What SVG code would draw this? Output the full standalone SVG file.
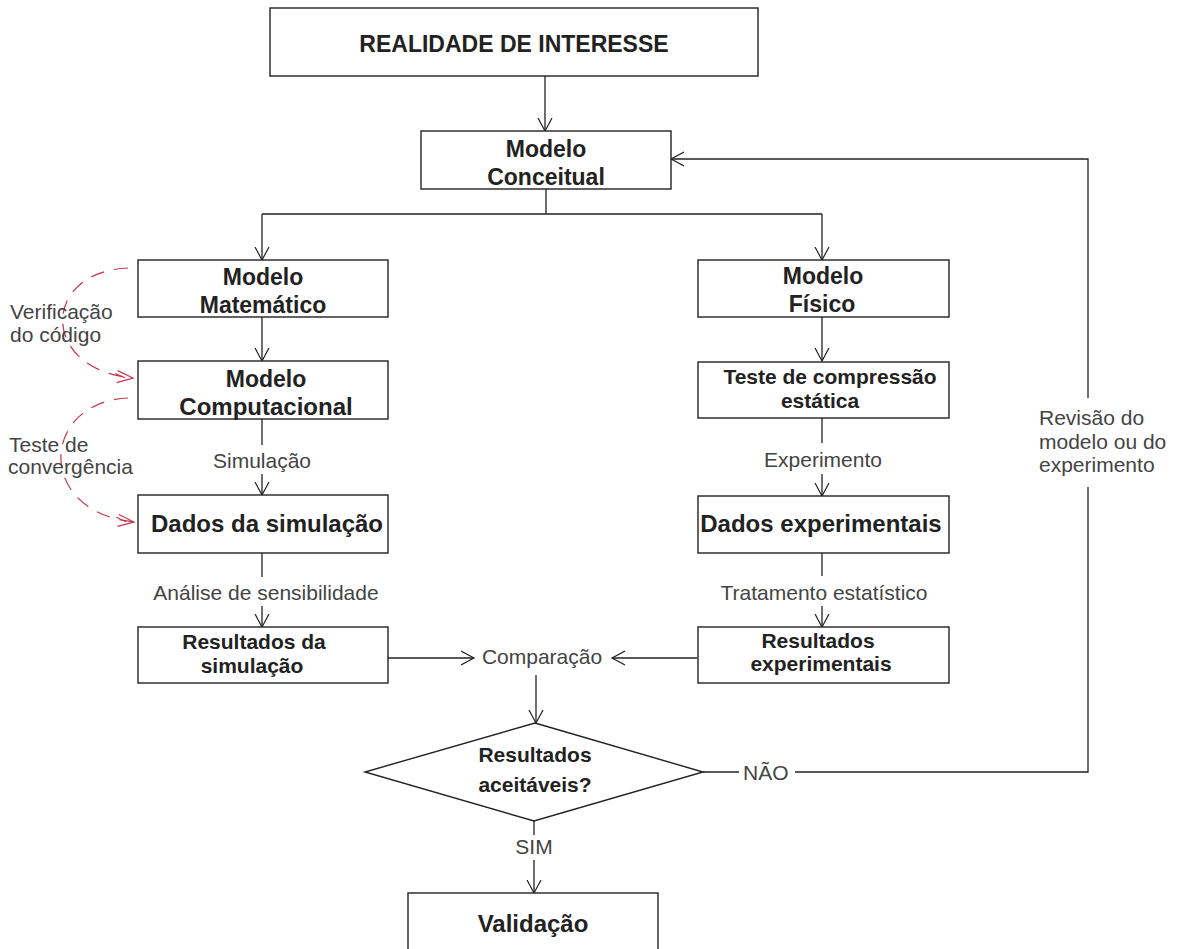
<svg xmlns="http://www.w3.org/2000/svg" width="1179" height="949" viewBox="0 0 1179 949">
<style>
.box{fill:#fff;stroke:#222;stroke-width:1.4}
.t{font-family:"Liberation Sans",Arial,sans-serif;font-weight:bold;fill:#222;text-anchor:middle}
.l{font-family:"Liberation Sans",Arial,sans-serif;fill:#444;font-size:21px}
.c{text-anchor:middle}
.ln{fill:none;stroke:#222;stroke-width:1.3}
.rd{fill:none;stroke:#c8344c;stroke-width:1.2;stroke-dasharray:14 10}
</style>
<defs>
<marker id="ah" markerWidth="16" markerHeight="16" refX="13" refY="8" orient="auto" markerUnits="userSpaceOnUse">
<path d="M0,1 L13,8 L0,15" fill="none" stroke="#222" stroke-width="1.2"/>
</marker>
<marker id="rh" markerWidth="20" markerHeight="14" refX="18" refY="7" orient="auto" markerUnits="userSpaceOnUse">
<path d="M2,1 L18,7 L2,13 M0,4 L10,7.5" fill="none" stroke="#c8344c" stroke-width="1.2"/>
</marker>
</defs>
<rect width="1179" height="949" fill="#fff"/>

<g id="connectors">
<path class="ln" d="M545,76 V131" marker-end="url(#ah)"/>
<path class="ln" d="M546,189 V214 M262,214 H822"/>
<path class="ln" d="M262,214 V260" marker-end="url(#ah)"/>
<path class="ln" d="M822,214 V260" marker-end="url(#ah)"/>
<path class="ln" d="M262,317 V361" marker-end="url(#ah)"/>
<path class="ln" d="M262,419 V445"/>
<path class="ln" d="M262,474 V495" marker-end="url(#ah)"/>
<path class="ln" d="M262,553 V577"/>
<path class="ln" d="M262,606 V627" marker-end="url(#ah)"/>
<path class="ln" d="M822,317 V361" marker-end="url(#ah)"/>
<path class="ln" d="M822,418 V443"/>
<path class="ln" d="M822,474 V496" marker-end="url(#ah)"/>
<path class="ln" d="M822,553 V576"/>
<path class="ln" d="M822,606 V627" marker-end="url(#ah)"/>
<path class="ln" d="M388,658 H474" marker-end="url(#ah)"/>
<path class="ln" d="M697,658 H612" marker-end="url(#ah)"/>
<path class="ln" d="M536,675 V723" marker-end="url(#ah)"/>
<path class="ln" d="M534,821 V835"/>
<path class="ln" d="M534,860 V893" marker-end="url(#ah)"/>
<path class="ln" d="M703,772 H739"/>
<path class="ln" d="M795,772 H1088 V487"/>
<path class="ln" d="M1088,398 V159 H671" marker-end="url(#ah)"/>
<path class="rd" d="M128,268 C40,272 40,370 133,378" marker-end="url(#rh)"/>
<path class="rd" d="M128,398 C40,402 35,512 134,522" marker-end="url(#rh)"/>
<text class="l c" x="262" y="468">Simulação</text>
<text class="l c" x="266" y="600">Análise de sensibilidade</text>
<text class="l c" x="823" y="467">Experimento</text>
<text class="l c" x="824" y="600">Tratamento estatístico</text>
<text class="l c" x="542" y="664">Comparação</text>
<text class="l c" x="534" y="854">SIM</text>
<text class="l" x="743" y="780">NÃO</text>
<text class="l" x="1039" y="425" font-size="20">Revisão do</text>
<text class="l" x="1039" y="449" font-size="20">modelo ou do</text>
<text class="l" x="1039" y="472" font-size="20">experimento</text>
<text class="l" x="10" y="319">Verificação</text>
<text class="l" x="10" y="342">do código</text>
<text class="l" x="9" y="452">Teste de</text>
<text class="l" x="8" y="474">convergência</text>
</g>

<g id="realidade">
<rect class="box" x="270" y="8" width="488" height="68"/>
<text class="t" x="514" y="52" font-size="23">REALIDADE DE INTERESSE</text>
</g>
<g id="conceitual">
<rect class="box" x="421" y="131" width="250" height="58"/>
<text class="t" x="546" y="157" font-size="23">Modelo</text>
<text class="t" x="546" y="185" font-size="23">Conceitual</text>
</g>
<g id="matematico">
<rect class="box" x="138" y="260" width="250" height="57"/>
<text class="t" x="263" y="285" font-size="23">Modelo</text>
<text class="t" x="263" y="313" font-size="23">Matemático</text>
</g>
<g id="computacional">
<rect class="box" x="138" y="361" width="250" height="58"/>
<text class="t" x="266" y="387" font-size="23">Modelo</text>
<text class="t" x="266" y="415" font-size="24">Computacional</text>
</g>
<g id="dados-simulacao">
<rect class="box" x="138" y="495" width="250" height="58"/>
<text class="t" x="267" y="532" font-size="24">Dados da simulação</text>
</g>
<g id="resultados-simulacao">
<rect class="box" x="138" y="627" width="250" height="56"/>
<text class="t" x="254" y="649" font-size="21">Resultados da</text>
<text class="t" x="252" y="673" font-size="21">simulação</text>
</g>
<g id="fisico">
<rect class="box" x="698" y="260" width="251" height="57"/>
<text class="t" x="823" y="284" font-size="23">Modelo</text>
<text class="t" x="822" y="312" font-size="23">Físico</text>
</g>
<g id="compressao">
<rect class="box" x="698" y="362" width="251" height="56"/>
<text class="t" x="830" y="384" font-size="21">Teste de compressão</text>
<text class="t" x="820" y="408" font-size="21">estática</text>
</g>
<g id="dados-experimentais">
<rect class="box" x="698" y="496" width="251" height="57"/>
<text class="t" x="821" y="532" font-size="24">Dados experimentais</text>
</g>
<g id="resultados-experimentais">
<rect class="box" x="698" y="627" width="251" height="56"/>
<text class="t" x="818" y="648" font-size="21">Resultados</text>
<text class="t" x="821" y="671" font-size="21">experimentais</text>
</g>
<g id="decisao">
<polygon class="box" points="535,723 703,772 534,821 365,772"/>
<text class="t" x="535" y="762" font-size="21">Resultados</text>
<text class="t" x="535" y="792" font-size="21">aceitáveis?</text>
</g>
<g id="validacao">
<rect class="box" x="408" y="893" width="250" height="70"/>
<text class="t" x="533" y="932" font-size="24">Validação</text>
</g>
</svg>
